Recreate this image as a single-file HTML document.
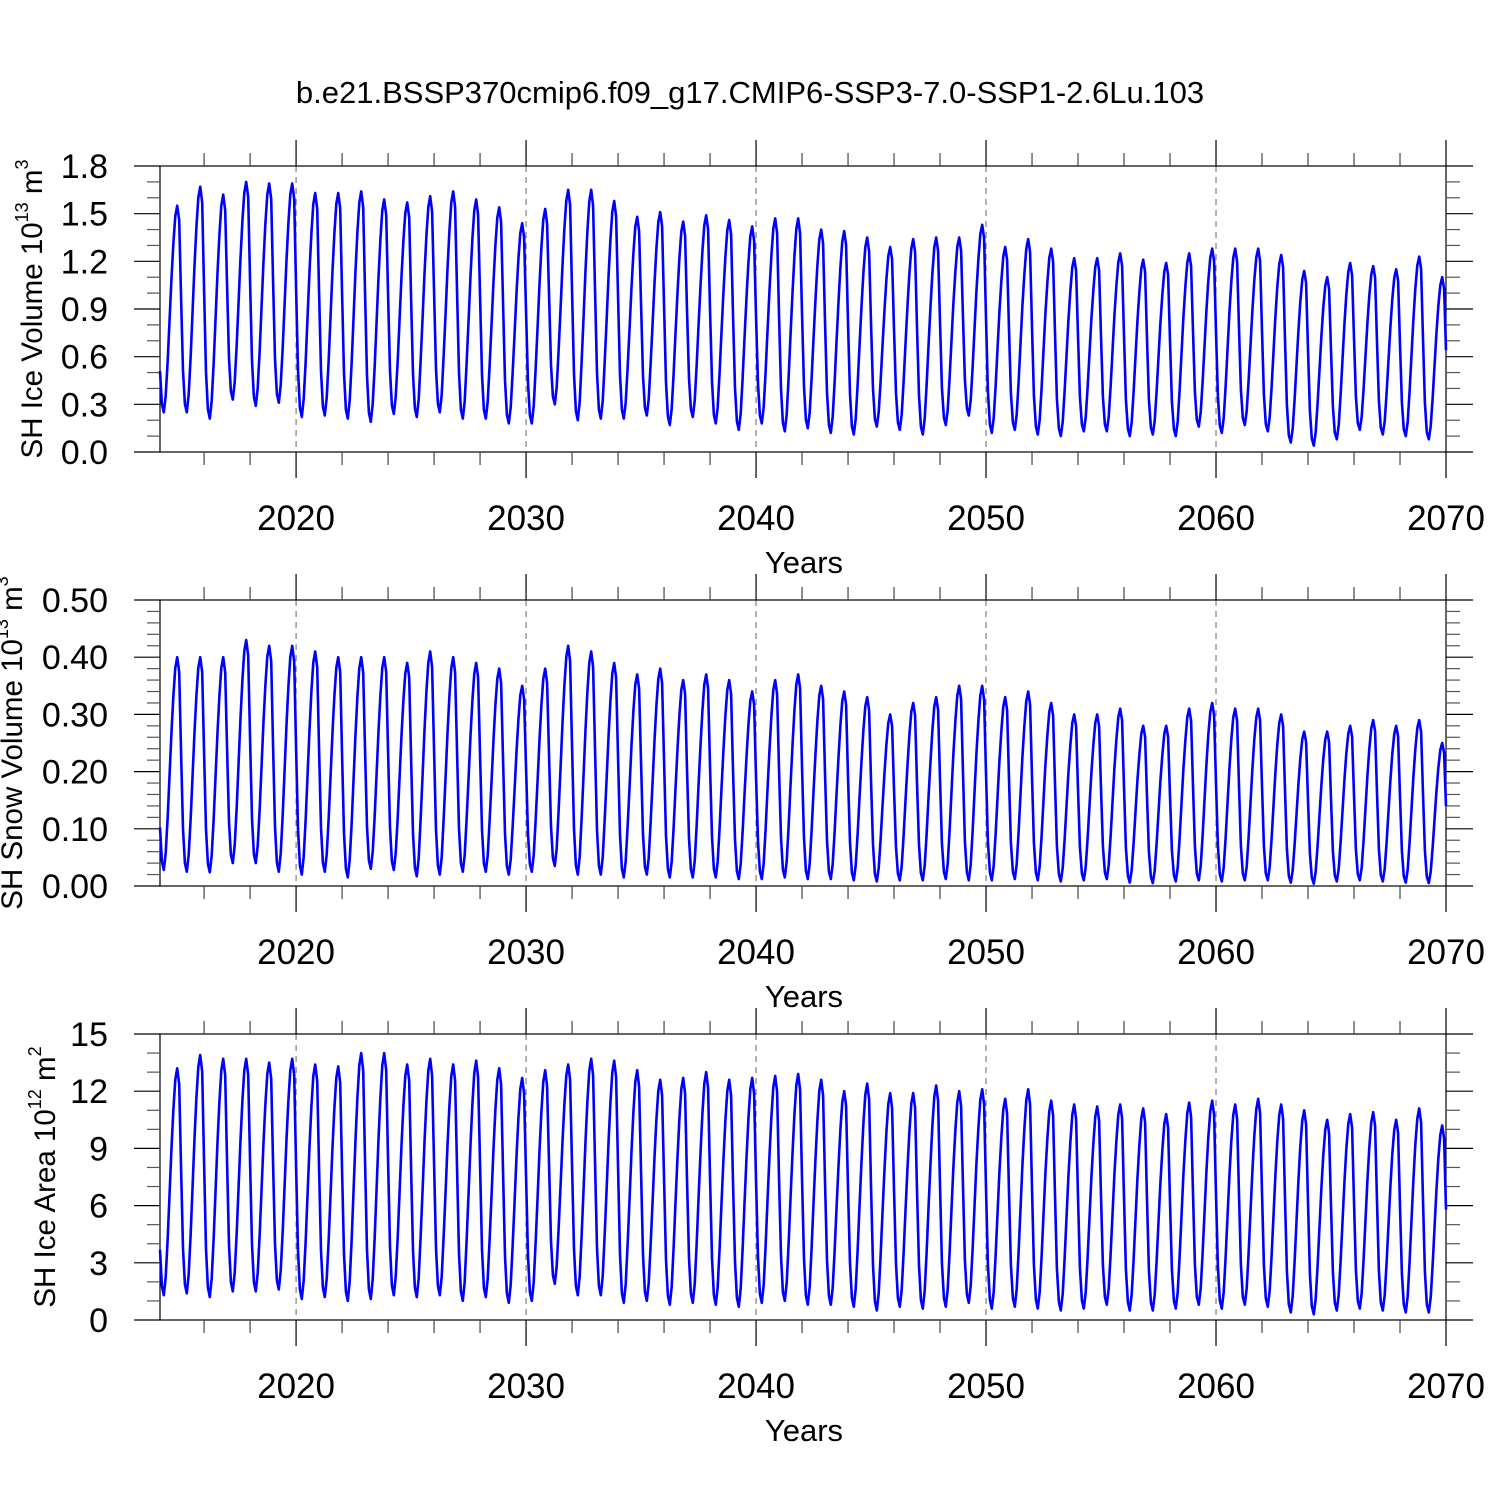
<!DOCTYPE html>
<html><head><meta charset="utf-8">
<style>
html,body{margin:0;padding:0;background:#fff;}
svg{display:block;font-family:"Liberation Sans",sans-serif;}
</style></head>
<body>
<svg id="chart" width="1500" height="1500" viewBox="0 0 1500 1500" xmlns="http://www.w3.org/2000/svg">
<rect width="1500" height="1500" fill="#fff"/>
<text x="750" y="103" text-anchor="middle" font-size="31" fill="#000">b.e21.BSSP370cmip6.f09_g17.CMIP6-SSP3-7.0-SSP1-2.6Lu.103</text>
</svg>
<script>
// ---- data ----
const years = [2014,2015,2016,2017,2018,2019,2020,2021,2022,2023,2024,2025,2026,2027,2028,2029,2030,2031,2032,2033,2034,2035,2036,2037,2038,2039,2040,2041,2042,2043,2044,2045,2046,2047,2048,2049,2050,2051,2052,2053,2054,2055,2056,2057,2058,2059,2060,2061,2062,2063,2064,2065,2066,2067,2068,2069];
// seasonal cycle fraction (month index 0..11, month k plotted at year+(k+1)/12)
const seasonShape = [0.2,0.04,0,0.08,0.25,0.45,0.65,0.82,0.95,1.0,0.93,0.55];
const iceVolMax = [1.55,1.67,1.62,1.70,1.69,1.69,1.63,1.63,1.64,1.59,1.57,1.61,1.64,1.59,1.54,1.44,1.53,1.65,1.65,1.58,1.48,1.51,1.45,1.49,1.46,1.42,1.47,1.47,1.40,1.39,1.35,1.29,1.34,1.35,1.35,1.43,1.29,1.34,1.28,1.22,1.22,1.25,1.21,1.19,1.25,1.28,1.28,1.28,1.24,1.14,1.10,1.19,1.17,1.15,1.23,1.10];
const iceVolMin = [0.25,0.25,0.21,0.33,0.29,0.31,0.22,0.23,0.21,0.19,0.24,0.22,0.25,0.21,0.21,0.18,0.18,0.30,0.20,0.21,0.21,0.23,0.17,0.22,0.18,0.14,0.18,0.13,0.15,0.12,0.11,0.16,0.14,0.11,0.17,0.23,0.12,0.14,0.11,0.10,0.13,0.13,0.10,0.11,0.10,0.16,0.12,0.17,0.13,0.06,0.04,0.08,0.14,0.11,0.10,0.08];
const snowMax = [0.40,0.40,0.40,0.43,0.42,0.42,0.41,0.40,0.40,0.40,0.39,0.41,0.40,0.39,0.38,0.35,0.38,0.42,0.41,0.39,0.37,0.38,0.36,0.37,0.36,0.34,0.36,0.37,0.35,0.34,0.33,0.30,0.32,0.33,0.35,0.35,0.33,0.34,0.32,0.30,0.30,0.31,0.28,0.28,0.31,0.32,0.31,0.31,0.30,0.27,0.27,0.28,0.29,0.28,0.29,0.25];
const snowMin = [0.028,0.025,0.024,0.04,0.04,0.025,0.02,0.025,0.015,0.03,0.028,0.017,0.02,0.025,0.025,0.02,0.025,0.035,0.02,0.02,0.015,0.02,0.015,0.015,0.015,0.012,0.012,0.015,0.012,0.012,0.01,0.008,0.01,0.01,0.012,0.01,0.01,0.012,0.01,0.008,0.01,0.012,0.006,0.005,0.008,0.01,0.008,0.01,0.01,0.006,0.004,0.008,0.01,0.008,0.006,0.005];
const areaMax = [13.2,13.9,13.7,13.7,13.5,13.7,13.4,13.3,14.0,14.0,13.4,13.7,13.4,13.6,13.2,12.7,13.1,13.4,13.7,13.6,13.1,12.6,12.7,13.0,12.6,12.7,12.8,12.9,12.6,12.0,12.4,11.9,11.9,12.3,12.0,12.1,11.6,12.1,11.5,11.3,11.2,11.3,11.1,10.8,11.4,11.5,11.3,11.6,11.3,11.0,10.5,10.8,10.9,10.5,11.1,10.2];
const areaMin = [1.3,1.4,1.2,1.5,1.5,1.6,1.1,1.2,1.0,1.1,1.3,1.2,1.3,1.0,1.2,0.9,1.0,1.9,1.3,1.3,0.9,1.0,0.8,0.9,0.8,0.7,0.9,1.0,0.8,0.8,0.7,0.5,0.7,0.6,0.7,0.9,0.6,0.7,0.6,0.5,0.6,0.8,0.5,0.5,0.6,0.8,0.6,0.8,0.7,0.4,0.3,0.5,0.6,0.5,0.4,0.4];
const xTickLabels = ["2020","2030","2040","2050","2060","2070"];
const iceVolTicks = ["0.0","0.3","0.6","0.9","1.2","1.5","1.8"];
const snowTicks = ["0.00","0.10","0.20","0.30","0.40","0.50"];
const areaTicks = ["0","3","6","9","12","15"];

const NS = "http://www.w3.org/2000/svg";
const svg = document.getElementById("chart");
const X0 = 160, X1 = 1446, T0 = 2014 + 1/12, T1 = 2070;
function xs(t){ return X0 + (t - T0) / (T1 - T0) * (X1 - X0); }
function mk(tag, attrs, parent){
  const e = document.createElementNS(NS, tag);
  for (const k in attrs) e.setAttribute(k, attrs[k]);
  (parent || svg).appendChild(e);
  return e;
}
function monthly(maxA, minA){
  const out = [];
  for (let i = 0; i < years.length; i++){
    for (let m = 0; m < 12; m++){
      let lo = minA[i], hi = maxA[i];
      if (m <= 1 && i > 0) hi = maxA[i-1];
      if (m === 11 && i < years.length - 1) lo = minA[i+1];
      out.push({t: years[i] + (m+1)/12, v: lo + (hi - lo) * seasonShape[m]});
    }
  }
  return out;
}
function panel(opt){
  const g = mk("g", {});
  
  
  const top = opt.top, bot = opt.top + 286;
  const ys = v => bot - (v - opt.ymin) / (opt.ymax - opt.ymin) * (bot - top);
  for (let yr = 2020; yr <= 2060; yr += 10){
    const l = mk("line", {x1: xs(yr), x2: xs(yr), y1: top, y2: bot, stroke: "#666", "stroke-width": 1, "stroke-dasharray": "6,5"}, g);
    
    
  }
  const fr = mk("rect", {x: X0, y: top, width: X1 - X0, height: bot - top, fill: "none", stroke: "#000", "stroke-width": 1.2}, g);
  
  
  for (let yr = 2016; yr <= 2070; yr += 2){
    const major = yr % 10 === 0, L = major ? 26 : 13;
    const x = xs(yr);
    const a = mk("line", {x1: x, x2: x, y1: top - L, y2: top, stroke: major ? "#000" : "#444", "stroke-width": 1.2}, g);
    
    
    const b = mk("line", {x1: x, x2: x, y1: bot, y2: bot + L, stroke: major ? "#000" : "#444", "stroke-width": 1.2}, g);
    
    
  }
  xTickLabels.forEach(s => {
    const t = mk("text", {x: xs(+s), y: bot + 78, "text-anchor": "middle", "font-size": 35}, g);
    t.textContent = s;
    
    
  });
  const xt = mk("text", {x: 804, y: bot + 121, "text-anchor": "middle", "font-size": 31}, g);
  xt.textContent = "Years";
  
  
  const nMinor = opt.minor;
  const step = (opt.ymax - opt.ymin) / (opt.ticks.length - 1);
  for (let i = 0; i < opt.ticks.length; i++){
    for (let j = 0; j <= nMinor; j++){
      if (i === opt.ticks.length - 1 && j > 0) break;
      const v = opt.ymin + i * step + j * step / (nMinor + 1);
      const y = ys(v), major = j === 0, L = major ? 26 : 13;
      const a = mk("line", {x1: X0 - L, x2: X0, y1: y, y2: y, stroke: major ? "#000" : "#555", "stroke-width": 1.2}, g);
      
      
      const b = mk("line", {x1: X1, x2: X1 + L + 1, y1: y, y2: y, stroke: major ? "#000" : "#555", "stroke-width": 1.2}, g);
      
      
    }
    const t = mk("text", {x: 108, y: ys(opt.ymin + i * step) + 12, "text-anchor": "end", "font-size": 34}, g);
    t.textContent = opt.ticks[i];
    
    
  }
  const cy = (top + bot) / 2;
  const yt = mk("text", {x: 0, y: 0, "text-anchor": "middle", "font-size": 29.5, transform: "translate(" + (opt.titleX + 11) + "," + cy + ") rotate(-90)"}, g);
  
  
  const s1 = mk("tspan", {}, yt); s1.textContent = opt.title + " 10";
  const s2 = mk("tspan", {"font-size": 18, dy: -14}, yt); s2.textContent = opt.exp;
  const s3 = mk("tspan", {dy: 14}, yt); s3.textContent = " m";
  const s4 = mk("tspan", {"font-size": 18, dy: -14}, yt); s4.textContent = opt.unitExp;
  const pts = monthly(opt.maxA, opt.minA);
  let d = "";
  pts.forEach((p, i) => { d += (i ? "L" : "M") + xs(p.t).toFixed(1) + "," + ys(p.v).toFixed(1); });
  const path = mk("path", {d: d, fill: "none", stroke: "#0000ff", "stroke-width": 2.6, "stroke-linejoin": "round"}, g);
  
  
}
panel({name: "ice-volume-panel", top: 166, ymin: 0, ymax: 1.8, ticks: iceVolTicks, minor: 2, title: "SH Ice Volume", exp: "13", unitExp: "3", titleX: 31, maxA: iceVolMax, minA: iceVolMin});
panel({name: "snow-volume-panel", top: 600, ymin: 0, ymax: 0.5, ticks: snowTicks, minor: 4, title: "SH Snow Volume", exp: "13", unitExp: "3", titleX: 11, maxA: snowMax, minA: snowMin});
panel({name: "ice-area-panel", top: 1034, ymin: 0, ymax: 15, ticks: areaTicks, minor: 2, title: "SH Ice Area", exp: "12", unitExp: "2", titleX: 44, maxA: areaMax, minA: areaMin});
</script>
</body></html>
